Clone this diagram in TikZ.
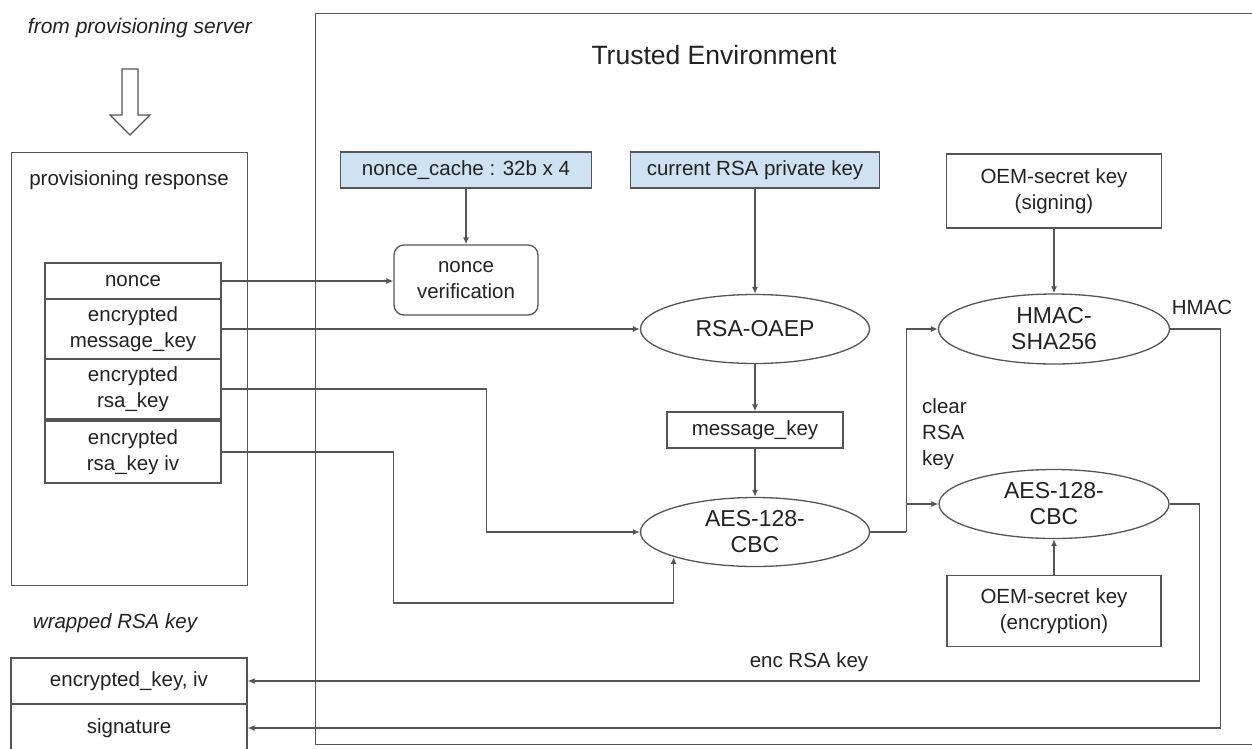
\documentclass[tikz,border=0pt]{standalone}
\usepackage{fontspec}
\setmainfont{Liberation Sans}
\usepackage{tikz}
\usetikzlibrary{shapes.geometric,arrows.meta,positioning,calc}

\definecolor{keyblue}{HTML}{CFE2F3}
\definecolor{linegray}{HTML}{555555}
\definecolor{textgray}{HTML}{222222}

\begin{document}
\begin{tikzpicture}[
    x=1pt, y=-1pt,
    every node/.style={text=textgray, font=\fontsize{20.5}{26}\selectfont},
    box/.style={draw=linegray, line width=1.3pt, inner sep=0pt, align=center},
    keybox/.style={box, fill=keyblue, minimum height=36pt},
    field/.style={box, minimum width=176pt},
    oval/.style={ellipse, draw=linegray, line width=1.3pt, inner sep=0pt, align=center,
                 minimum width=229pt, minimum height=69pt, font=\fontsize{23}{26}\selectfont},
    lbl/.style={inner sep=0pt, align=left},
    wire/.style={draw=linegray, line width=1.3pt},
    arr/.style={wire, -{Latex[length=7pt,width=6pt]}}
]
    \useasboundingbox (0,0) rectangle (1252,748);

    % left side: what comes in
    \node[font=\itshape\fontsize{21}{26}\selectfont] (src) at (140,28) {from provisioning server};
    \draw[wire, line join=miter] (122,69) -- (138,69) -- (138,115) -- (150,115) -- (130,135)
        -- (110,115) -- (122,115) -- cycle;

    \node[box, anchor=north west, minimum width=236pt, minimum height=433pt] (resp) at (11,152) {};
    \node (resptitle) at (129,180) {provisioning response};

    \node[field, minimum height=36pt] (nonce) at (133,281) {nonce};
    \node[field, minimum height=60pt] (encmk) at (133,329) {encrypted\\message\_key};
    \node[field, minimum height=60pt] (encrsa) at (133,389) {encrypted\\rsa\_key};
    \node[field, minimum height=62pt] (enciv) at (133,452) {encrypted\\rsa\_key iv};

    % left side: what goes out
    \node[font=\itshape\fontsize{20.5}{26}\selectfont] (out) at (115,623) {wrapped RSA key};
    \node[box, minimum width=236pt, minimum height=46pt] (wrapkey) at (129,681) {encrypted\_key, iv};
    \node[box, minimum width=236pt, minimum height=48pt] (sig) at (129,728) {signature};

    % trusted environment
    \node[box, anchor=north west, minimum width=950pt, minimum height=731pt] (trusted) at (315,13) {};
    \node[font=\fontsize{26.5}{30}\selectfont] (title) at (714,55) {Trusted Environment};

    \node[keybox, minimum width=251pt] (cache) at (466,170) {nonce\_cache : 32b x 4};
    \node[keybox, minimum width=249pt] (rsakey) at (755,170) {current RSA private key};
    \node[box, rounded corners=10pt, minimum width=144pt, minimum height=70pt] (verify) at (466,280) {nonce\\verification};

    \node[oval] (oaep) at (755,329) {RSA-OAEP};
    \node[box, minimum width=176pt, minimum height=36pt] (msgkey) at (755,430) {message\_key};
    \node[oval] (aesdec) at (755,532) {AES-128-\\CBC};

    \node[box, minimum width=215pt, minimum height=74pt] (signkey) at (1054,191) {OEM-secret key\\(signing)};
    \node[oval, minimum width=231pt, minimum height=70pt] (hmac) at (1054,329) {HMAC-\\SHA256};
    \node[oval, minimum width=230pt] (aesenc) at (1054,504) {AES-128-\\CBC};
    \node[box, minimum width=214pt, minimum height=71pt] (enckey) at (1054,611) {OEM-secret key\\(encryption)};

    \node[lbl] (hmaclbl) at (1202,307) {HMAC};
    \node[lbl, anchor=west] (clearlbl) at (922,434) {clear\\RSA\\key};
    \node[lbl] (enclbl) at (809,662) {enc RSA key};

    % connectors
    \draw[arr] (nonce.east) -- (nonce.east -| verify.west);
    \draw[arr] (cache) -- (verify);
    \draw[arr] (encmk.east) -- (oaep.west);
    \draw[arr] (rsakey) -- (oaep);
    \draw[arr] (oaep) -- (msgkey);
    \draw[arr] (msgkey) -- (aesdec);
    \draw[arr] (encrsa.east) -- ++(265,0) |- (aesdec.west);
    \draw[arr] (enciv.east) -- ++(172,0) -- ++(0,151) -| (aesdec.south west);

    \coordinate (fork) at ($(aesdec.east)+(36,0)$);
    \draw[wire] (aesdec.east) -- (fork);
    \draw[arr] (fork) |- (hmac.west);
    \draw[arr] (fork) |- (aesenc.west);

    \draw[arr] (signkey) -- (hmac);
    \draw[arr] (enckey) -- (aesenc);
    \draw[arr] (hmac.east) -- ++(50,0) |- (sig.east);
    \draw[arr] (aesenc.east) -- ++(30,0) |- (wrapkey.east);
\end{tikzpicture}
\end{document}
